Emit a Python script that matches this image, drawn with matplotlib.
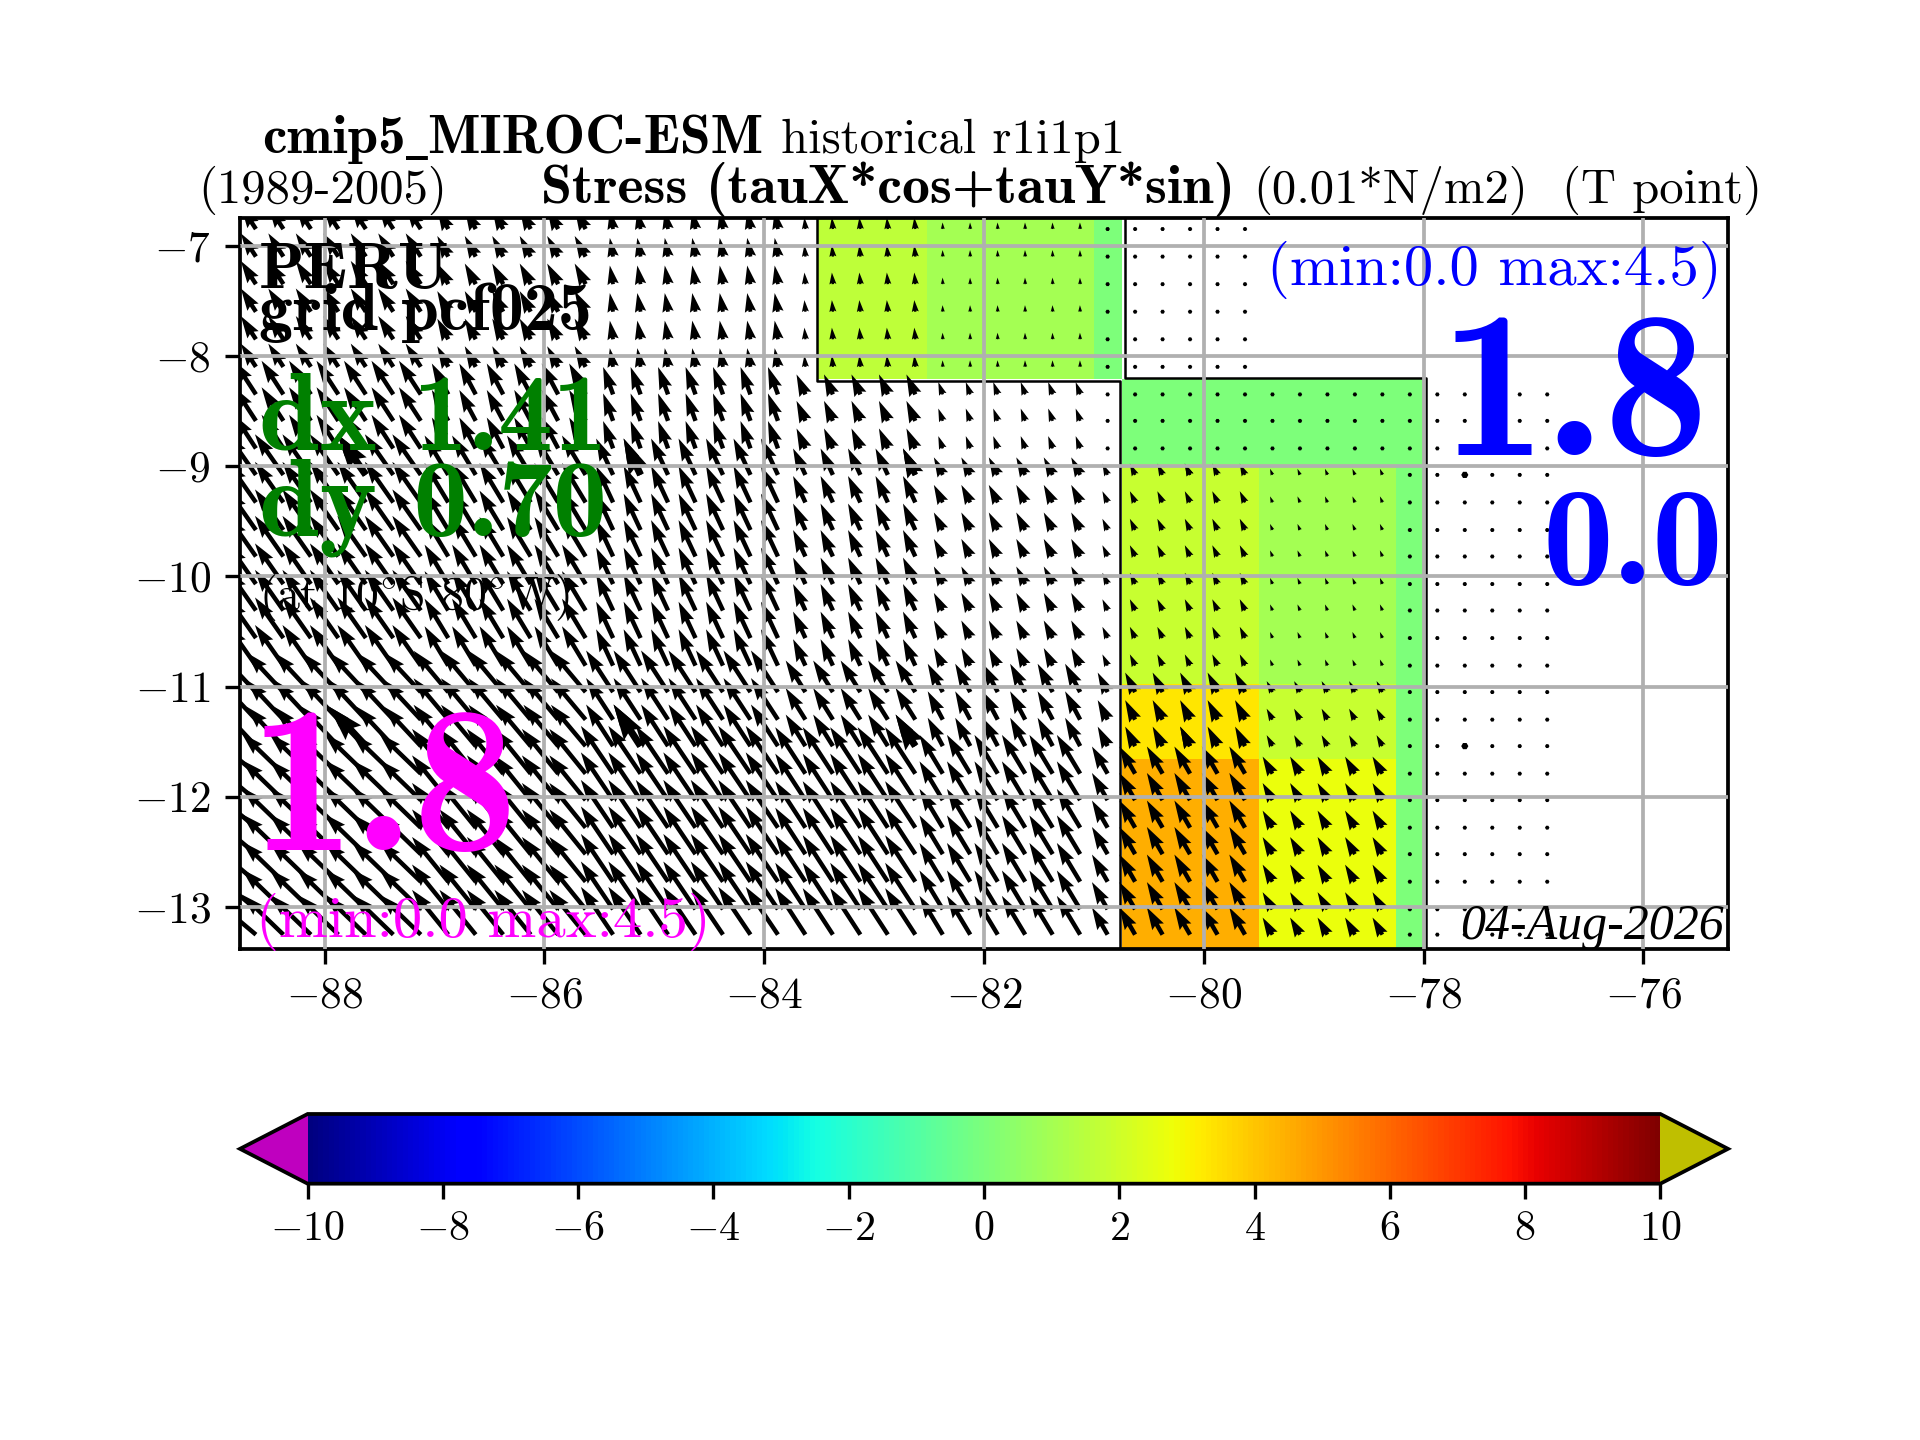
import matplotlib
matplotlib.use('Agg')
import matplotlib.pyplot as plt
import numpy as np

plt.rcParams['font.family'] = 'cmr10'
plt.rcParams['mathtext.fontset'] = 'cm'
plt.rcParams['axes.formatter.use_mathtext'] = True
plt.rcParams['axes.linewidth'] = 0.9
plt.rcParams['xtick.labelsize'] = 10.4
plt.rcParams['ytick.labelsize'] = 10.4
plt.rcParams['xtick.major.pad'] = 3

# arrow grid, lon and lat of each arrow tail
arrow_lons = [-88.625, -88.375, -88.125, -87.875, -87.625, -87.375, -87.125, -86.875,
              -86.625, -86.375, -86.125, -85.875, -85.625, -85.375, -85.125, -84.875,
              -84.625, -84.375, -84.125, -83.875, -83.625, -83.375, -83.125, -82.875,
              -82.625, -82.375, -82.125, -81.875, -81.625, -81.375, -81.125, -80.875,
              -80.625, -80.375, -80.125, -79.875, -79.625, -79.375, -79.125, -78.875,
              -78.625, -78.375, -78.125, -77.875, -77.625, -77.375, -77.125, -76.875]
arrow_lats = [-6.85, -7.10, -7.35, -7.60, -7.85, -8.10, -8.35, -8.59, -8.84, -9.08, -9.33,
              -9.58, -9.82, -10.07, -10.31, -10.56, -10.81, -11.05, -11.30, -11.54, -11.79,
              -12.03, -12.28, -12.52, -12.77, -13.02, -13.25]

# the few thicker arrows
fat_lons = [-87.625, -85.125, -82.625, -80.125, -77.625]
fat_lats = [-9.08, -11.54]

# stress is constant inside coarse model cells
cell_lon_breaks = [-88.5, -87.0, -85.5, -83.75, -82.5, -81.0, -79.5, -78.25]
cell_lat_breaks = [-8.22, -8.98, -10.98, -11.66]
cell_speed = [[3.8, 3.8, 3.2, 2.6, 1.6, 0.9, 0.0, np.nan, np.nan],
              [5.5, 5.5, 4.8, 4.0, 3.0, 1.8, 0.0, 0.0, 0.0],
              [6.8, 6.8, 6.3, 5.5, 4.0, 2.7, 1.7, 0.9, 0.0],
              [7.4, 7.4, 7.4, 6.8, 5.1, 4.4, 3.0, 1.7, 0.0],
              [8.0, 7.9, 7.9, 7.9, 7.6, 6.2, 4.3, 2.7, 0.0]]
cell_angle = [[123, 123, 118, 100, 95, 92, 90, 90, 90],
              [123, 123, 118, 110, 114, 110, 90, 90, 90],
              [125, 125, 121, 115, 115, 117, 115, 112, 90],
              [133, 133, 130, 123, 122, 118, 117, 118, 90],
              [140, 136, 129, 124, 123, 121, 120, 120, 90]]

# coloured boxes
color_lon_edges = [-83.52, -82.52, -81.0, -80.74, -79.5, -78.25, -77.98]
color_lat_edges = [-6.75, -8.21, -8.98, -10.98, -11.66, -13.38]
color_values = [[1.6, 1.0, 0.0, np.nan, np.nan, np.nan],
                [np.nan, np.nan, np.nan, 0.0, 0.0, 0.0],
                [np.nan, np.nan, np.nan, 1.8, 1.0, 0.0],
                [np.nan, np.nan, np.nan, 3.3, 1.8, 0.0],
                [np.nan, np.nan, np.nan, 4.5, 2.7, 0.0]]

outline_a_lon = [-83.52, -83.52, -80.76, -80.76]
outline_a_lat = [-6.75, -8.23, -8.23, -13.38]
outline_b_lon = [-80.72, -80.72, -77.98, -77.98]
outline_b_lat = [-6.75, -8.20, -8.20, -13.38]

cbar_ticks = [-10, -8, -6, -4, -2, 0, 2, 4, 6, 8, 10]


def stress_at(lons, lats):
    lon2d, lat2d = np.meshgrid(lons, lats)
    col = np.searchsorted(cell_lon_breaks, lon2d)
    row = np.searchsorted(-np.array(cell_lat_breaks), -lat2d)
    speed = np.array(cell_speed)[row, col]
    angle = np.radians(np.array(cell_angle)[row, col])
    return lon2d, lat2d, speed * np.cos(angle), speed * np.sin(angle)


fig = plt.figure(figsize=(6.4, 4.8), dpi=300)
ax = fig.add_axes([0.125, 0.341, 0.775, 0.5076])

cmap = plt.get_cmap('jet').copy()
cmap.set_under('m')
cmap.set_over('y')
mesh = ax.pcolormesh(color_lon_edges, color_lat_edges, np.ma.masked_invalid(color_values),
                     cmap=cmap, vmin=-10, vmax=10)

ax.plot(outline_a_lon, outline_a_lat, color='k', lw=0.6)
ax.plot(outline_b_lon, outline_b_lat, color='k', lw=0.6)

x, y, u, v = stress_at(arrow_lons, arrow_lats)
ax.quiver(x, y, u, v, scale=204, scale_units='width', width=0.003)
x, y, u, v = stress_at(fat_lons, fat_lats)
ax.quiver(x, y, u, v, scale=204, scale_units='width', width=0.0048)

ax.set_xlim(-88.77, -75.23)
ax.set_ylim(-13.38, -6.75)
ax.set_xticks([-88, -86, -84, -82, -80, -78, -76])
ax.set_yticks([-7, -8, -9, -10, -11, -12, -13])
ax.set_axisbelow(False)
ax.grid(True, lw=0.9)

cax = fig.add_axes([0.125, 0.178, 0.775, 0.0484])
cb = fig.colorbar(mesh, cax=cax, orientation='horizontal', extend='both')
cb.set_ticks(cbar_ticks)
cax.tick_params(labelsize=10.1)

# titles, the underscore is missing from the bold font
renderer = fig.canvas.get_renderer()
part = fig.text(0.1365, 0.8937, 'cmip5', fontsize=13.2, family='cmb10')
x_next = part.get_window_extent(renderer).x1 / fig.bbox.width
part = fig.text(x_next, 0.8965, '_', fontsize=10.5, family='DejaVu Serif', weight='bold')
x_next = part.get_window_extent(renderer).x1 / fig.bbox.width
fig.text(x_next, 0.8937, 'MIROC-ESM', fontsize=13.3, family='cmb10')
fig.text(0.4069, 0.8937, 'historical r1i1p1', fontsize=11.7)
fig.text(0.1035, 0.8588, '(1989-2005)', fontsize=11.7)
fig.text(0.2819, 0.8588, 'Stress (tauX*cos+tauY*sin)', fontsize=13.4, family='cmb10')
fig.text(0.6527, 0.8588, '(0.01*N/m2)', fontsize=11.7)
fig.text(0.8134, 0.8588, '(T point)', fontsize=11.7)

# labels on the map
fig.text(0.1350, 0.8002, 'PERU', fontsize=16, family='cmb10', zorder=5)
fig.text(0.1350, 0.7705, 'grid pcf025', fontsize=16.3, family='cmb10', zorder=5)
fig.text(0.1350, 0.6876, 'dx 1.41', fontsize=26.2, family='cmb10', color='green', zorder=5)
fig.text(0.1350, 0.6281, 'dy 0.70', fontsize=26.2, family='cmb10', color='green', zorder=5)
fig.text(0.1350, 0.5774, r'(at 10$^{\circ}$S 80$^{\circ}$W)', fontsize=11, zorder=5)
fig.text(0.1298, 0.4099, '1.8', fontsize=50.5, family='cmb10', color='magenta', zorder=5)
fig.text(0.1335, 0.3495, '(min:0.0 max:4.5)', fontsize=14.1, color='magenta', zorder=5)
fig.text(0.8970, 0.8022, '(min:0.0 max:4.5)', fontsize=14.1, color='blue', ha='right', zorder=5)
fig.text(0.8900, 0.6837, '1.8', fontsize=50.5, family='cmb10', color='blue', ha='right', zorder=5)
fig.text(0.8975, 0.5944, '0.0', fontsize=34, family='cmb10', color='blue', ha='right', zorder=5)
fig.text(0.8980, 0.3478, '04-Aug-2026', fontsize=12, family='Liberation Serif', style='italic',
         ha='right', zorder=5)

fig.savefig('out.png')
